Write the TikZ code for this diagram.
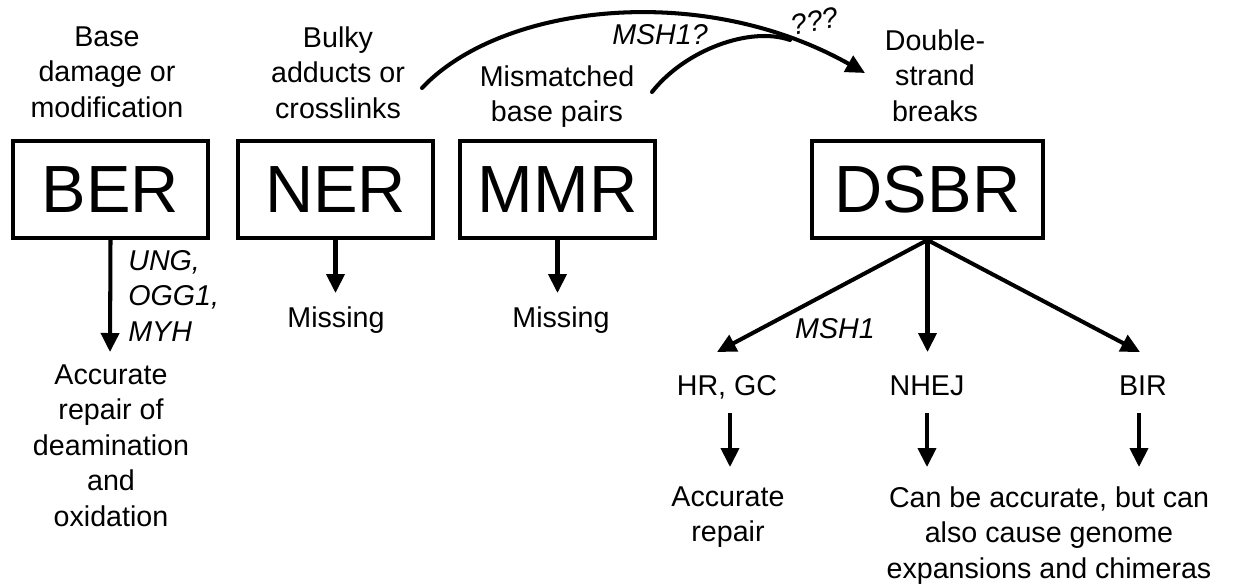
\documentclass[tikz,border=0pt]{standalone}
\usepackage{fontspec}
\setmainfont{Liberation Sans}
\usetikzlibrary{arrows.meta}
\begin{document}
\begin{tikzpicture}[x=0.02cm,y=-0.02cm,
  lbl/.style={font=\fontsize{16.3}{20.2}\selectfont, align=center, inner sep=0pt, anchor=north},
  one/.style={font=\fontsize{16.3}{20.2}\selectfont, inner sep=0pt, anchor=base},
  gene/.style={font=\fontsize{16.3}{20.2}\selectfont\itshape, inner sep=0pt},
  repbox/.style={draw, line width=2.3pt, font=\fontsize{38}{40}\selectfont, minimum height=1.94cm, inner sep=0pt},
  arr/.style={line width=2.3pt, -{Triangle[length=0.38cm,width=0.36cm]}},
  curve/.style={line width=2.3pt, line cap=round},
]
\useasboundingbox (0,0) rectangle (1235,586);

% top labels
\node[lbl] (base) at (107,26) {Base\\damage or\\modification};
\node[lbl] (bulky) at (338,26) {Bulky\\adducts or\\crosslinks};
\node[lbl] (mism) at (557,65) {Mismatched\\base pairs};
\node[lbl] (dsb) at (935,29) {Double-\\strand\\breaks};

% boxes
\node[repbox, minimum width=3.9cm] (ber) at (110.5,189.5) {BER};
\node[repbox, minimum width=3.9cm] (ner) at (335.5,189.5) {NER};
\node[repbox, minimum width=3.9cm] (mmr) at (557.5,189.5) {MMR};
\node[repbox, minimum width=4.62cm] (dsbr) at (927.5,189.5) {DSBR};

% top curves
\coordinate (c1s) at (422,88);
\coordinate (c1e) at (865,73);
\coordinate (c2s) at (652,92);
\coordinate (c2e) at (790,40);
\draw[curve, -{Triangle[length=0.38cm,width=0.36cm]}] (c1s) .. controls (500,5) and (700,-20) .. (c1e);
\draw[curve] (c2s) .. controls (685,50) and (750,26) .. (c2e);
\node[gene, anchor=base] (msh1q) at (660,44) {MSH1?};
\node[gene, rotate=12] (qqq) at (815,21) {???};

% BER branch
\coordinate (berTip) at (110,352);
\draw[arr] (ber.south) -- (berTip);
\node[gene, align=left, anchor=north west] (genes) at (128,250) {UNG,\\OGG1,\\MYH};
\node[lbl] (acc1) at (111,364) {Accurate\\repair of\\deamination\\and\\oxidation};

% NER / MMR
\coordinate (nerTip) at (335.5,293);
\coordinate (mmrTip) at (557.5,293);
\draw[arr] (ner.south) -- (nerTip);
\draw[arr] (mmr.south) -- (mmrTip);
\node[one] (miss1) at (336,327) {Missing};
\node[one] (miss2) at (561,327) {Missing};

% DSBR fan
\coordinate (hrTip) at (717,352);
\coordinate (nhejTip) at (927.5,352);
\coordinate (birTip) at (1140,352);
\draw[arr] (dsbr.south) -- (hrTip);
\draw[arr] (dsbr.south) -- (nhejTip);
\draw[arr] (dsbr.south) -- (birTip);
\node[gene, anchor=base] (msh1) at (835,338) {MSH1};

\node[one] (hr) at (727,395) {HR, GC};
\node[one] (nhej) at (927,395) {NHEJ};
\node[one] (bir) at (1143,395) {BIR};

\coordinate (hrA) at (730,413);  \coordinate (hrB) at (730,467);
\coordinate (nhA) at (927,413);  \coordinate (nhB) at (927,467);
\coordinate (biA) at (1139,413); \coordinate (biB) at (1139,467);
\draw[arr] (hrA) -- (hrB);
\draw[arr] (nhA) -- (nhB);
\draw[arr] (biA) -- (biB);

\node[lbl] (acc2) at (728,486) {Accurate\\repair};
\node[lbl] (can) at (1049,486) {Can be accurate, but can\\also cause genome\\expansions and chimeras};
\end{tikzpicture}
\end{document}
